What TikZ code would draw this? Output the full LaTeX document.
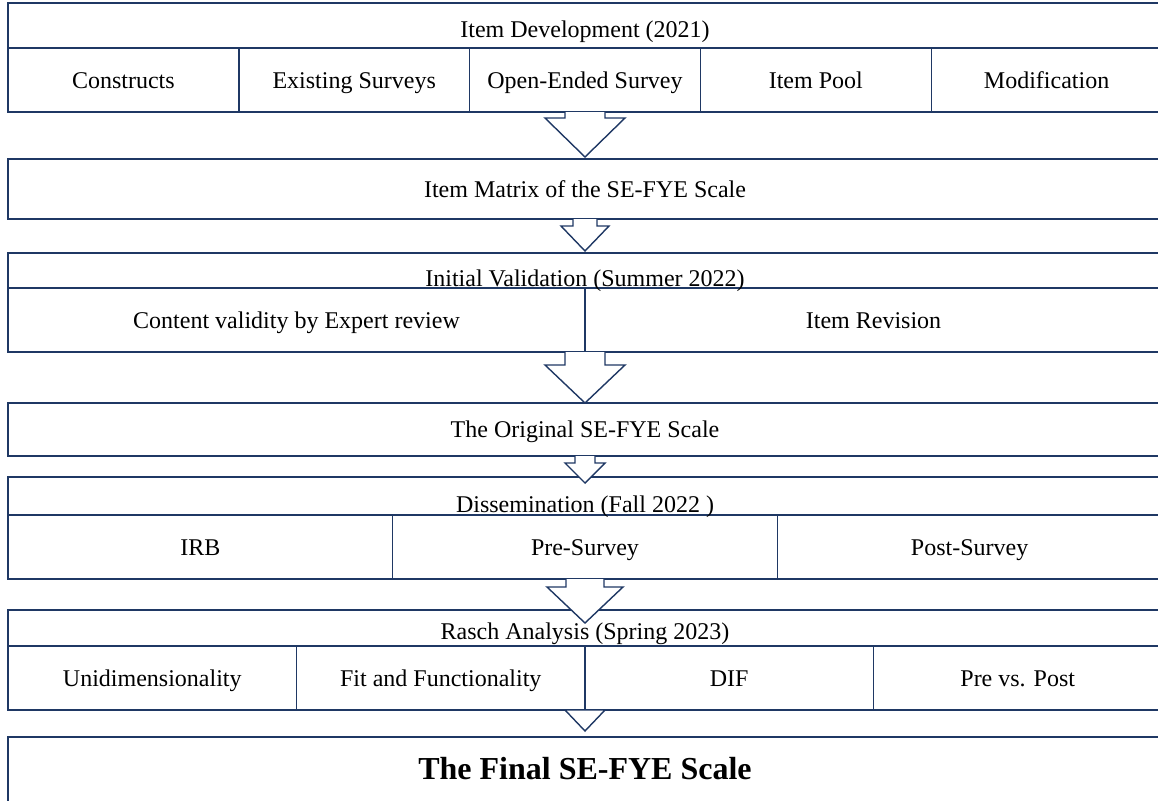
\documentclass[tikz,border=0pt]{standalone}
\usepackage{fontspec}
\setmainfont{Liberation Serif}
\usetikzlibrary{positioning}

\definecolor{framenavy}{RGB}{31,56,100}

\tikzset{
  stagebox/.style={draw=framenavy, line width=0.7pt, inner sep=0pt, outer sep=0pt,
    anchor=north west, minimum width=577pt, text height=8pt, text depth=0pt,
    font=\fontsize{12}{14}\selectfont},
  cell/.style={draw=framenavy, line width=0.7pt, inner sep=0pt, outer sep=0pt,
    minimum height=32pt, text height=8pt, text depth=0pt,
    font=\fontsize{12}{14}\selectfont},
  heading/.style={anchor=base, inner sep=0pt, font=\fontsize{12}{14}\selectfont},
  flow/.style={draw=framenavy, line width=0.7pt, fill=white, line join=miter},
}

% hollow block arrow: from, to, shaft half width, head half width, shaft length, tip shift
\newcommand{\stagearrow}[6]{%
  \draw[flow] ([xshift=-#3pt]#1.south) -- ([xshift=-#3pt,yshift=-#5pt]#1.south)
    -- ([xshift=-#4pt,yshift=-#5pt]#1.south) -- ([yshift=#6pt]#2.north)
    -- ([xshift=#4pt,yshift=-#5pt]#1.south) -- ([xshift=#3pt,yshift=-#5pt]#1.south)
    -- ([xshift=#3pt]#1.south);}

\begin{document}
\begin{tikzpicture}[x=1pt,y=1pt]
  \useasboundingbox (0,0) rectangle (579,-400);

  % stages
  \node[stagebox, minimum height=54.5pt] (dev) at (4,-1.5) {};
  \node[stagebox, minimum height=30pt, below=23.5pt of dev] (matrix) {Item Matrix of the SE-FYE Scale};
  \node[stagebox, minimum height=49.5pt, below=17pt of matrix] (ival) {};
  \node[stagebox, minimum height=26.5pt, below=25.5pt of ival] (orig) {The Original SE-FYE Scale};
  \node[stagebox, minimum height=51pt, below=10.5pt of orig] (diss) {};
  \node[stagebox, minimum height=50pt, below=15.5pt of diss] (rasch) {};
  \node[stagebox, minimum height=50pt, below=13.5pt of rasch] (final) {};

  % item development
  \node[cell, minimum width=115.4pt, anchor=south west] (constructs) at (dev.south west) {Constructs};
  \node[cell, minimum width=115.4pt, right=0pt of constructs] (existing) {Existing Surveys};
  \node[cell, minimum width=115.4pt, right=0pt of existing] (openended) {Open-Ended Survey};
  \node[cell, minimum width=115.4pt, right=0pt of openended] (pool) {Item Pool};
  \node[cell, minimum width=115.4pt, right=0pt of pool] (modif) {Modification};

  % initial validation
  \node[cell, minimum width=288.5pt, anchor=south west] (expert) at (ival.south west) {Content validity by Expert review};
  \node[cell, minimum width=288.5pt, right=0pt of expert] (revision) {Item Revision};

  % dissemination
  \node[cell, minimum width=192.33pt, anchor=south west] (irb) at (diss.south west) {IRB};
  \node[cell, minimum width=192.33pt, right=0pt of irb] (presurvey) {Pre-Survey};
  \node[cell, minimum width=192.33pt, right=0pt of presurvey] (postsurvey) {Post-Survey};

  % rasch analysis
  \node[cell, minimum width=144.25pt, anchor=south west] (unidim) at (rasch.south west) {Unidimensionality};
  \node[cell, minimum width=144.25pt, right=0pt of unidim] (fitfunc) {Fit and Functionality};
  \node[cell, minimum width=144.25pt, right=0pt of fitfunc] (dif) {DIF};
  \node[cell, minimum width=144.25pt, right=0pt of dif] (prepost) {Pre vs. Post};

  % arrows between stages
  \stagearrow{dev}{matrix}{10}{20}{3}{1}
  \stagearrow{matrix}{ival}{6}{12}{3.5}{1}
  \stagearrow{ival}{orig}{10}{20}{6.5}{0}
  \stagearrow{orig}{diss}{5}{10}{3.5}{-3}
  \stagearrow{diss}{rasch}{9.5}{19}{4}{-6.5}
  \stagearrow{rasch}{final}{0}{10}{0}{3}

  % stage headings
  \node[heading] (devtitle) at ([yshift=-17pt]dev.north) {Item Development (2021)};
  \node[heading] (ivaltitle) at ([yshift=-16.5pt]ival.north) {Initial Validation (Summer 2022)};
  \node[heading] (disstitle) at ([yshift=-17.5pt]diss.north) {Dissemination (Fall 2022 )};
  \node[heading] (raschtitle) at ([yshift=-14.5pt]rasch.north) {Rasch Analysis (Spring 2023)};
  \node[heading, font=\fontsize{16}{19}\selectfont\bfseries] (finaltitle) at ([yshift=-21pt]final.north) {The Final SE-FYE Scale};
\end{tikzpicture}
\end{document}
